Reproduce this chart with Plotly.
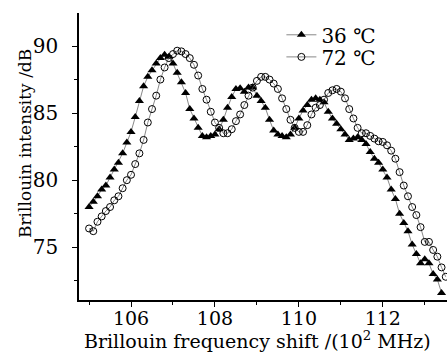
import plotly.graph_objects as go

x36 = [105.0, 105.1, 105.2, 105.3, 105.4, 105.5, 105.6, 105.7, 105.8, 105.9,
       106.0, 106.1, 106.2, 106.3, 106.4, 106.5, 106.6, 106.7, 106.8, 106.9,
       107.0, 107.1, 107.2, 107.3, 107.4, 107.5, 107.6, 107.7, 107.8, 107.9,
       108.0, 108.1, 108.2, 108.3, 108.4, 108.5, 108.6, 108.7, 108.8, 108.9,
       109.0, 109.1, 109.2, 109.3, 109.4, 109.5, 109.6, 109.7, 109.8, 109.9,
       110.0, 110.1, 110.2, 110.3, 110.4, 110.5, 110.6, 110.7, 110.8, 110.9,
       111.0, 111.1, 111.2, 111.3, 111.4, 111.5, 111.6, 111.7, 111.8, 111.9,
       112.0, 112.1, 112.2, 112.3, 112.4, 112.5, 112.6, 112.7, 112.8, 112.9,
       113.0, 113.1, 113.2, 113.3, 113.4]
y36 = [78.0, 78.4, 78.8, 79.3, 79.6, 80.2, 80.8, 81.3, 82.0, 82.8,
       83.6, 84.7, 85.9, 87.0, 87.7, 88.2, 88.7, 89.1, 89.35, 89.2,
       88.7, 88.0, 87.3, 86.5, 85.3, 84.6, 83.9, 83.3, 83.2, 83.3,
       83.4, 83.8, 84.5, 85.4, 86.2, 86.8, 86.85, 86.6, 86.9, 86.9,
       86.3, 85.9, 85.4, 84.5, 83.7, 83.4, 83.3, 83.2, 83.4, 83.9,
       84.6, 85.2, 85.6, 86.0, 86.1, 86.0, 85.8, 85.1, 84.6, 84.2,
       83.8, 83.4, 83.0, 83.1, 83.2, 83.0, 82.7, 82.1, 81.6, 81.3,
       80.8, 80.2, 79.3, 78.6, 77.5, 76.8, 76.2, 75.2, 74.5, 73.8,
       74.1, 73.8, 73.0, 72.6, 71.6]

x72 = [105.0, 105.1, 105.2, 105.3, 105.4, 105.5, 105.6, 105.7, 105.8, 105.9,
       106.0, 106.1, 106.2, 106.3, 106.4, 106.5, 106.6, 106.7, 106.8, 106.9,
       107.0, 107.1, 107.2, 107.3, 107.4, 107.5, 107.6, 107.7, 107.8, 107.9,
       108.0, 108.1, 108.2, 108.3, 108.4, 108.5, 108.6, 108.7, 108.8, 108.9,
       109.0, 109.1, 109.2, 109.3, 109.4, 109.5, 109.6, 109.7, 109.8, 109.9,
       110.0, 110.1, 110.2, 110.3, 110.4, 110.5, 110.6, 110.7, 110.8, 110.9,
       111.0, 111.1, 111.2, 111.3, 111.4, 111.5, 111.6, 111.7, 111.8, 111.9,
       112.0, 112.1, 112.2, 112.3, 112.4, 112.5, 112.6, 112.7, 112.8, 112.9,
       113.0, 113.1, 113.2, 113.3, 113.4, 113.5]
y72 = [76.4, 76.2, 76.9, 77.3, 77.7, 78.0, 78.5, 78.8, 79.4, 80.0,
       80.4, 81.2, 82.0, 83.0, 84.3, 85.3, 86.3, 87.5, 88.4, 89.1,
       89.4, 89.65, 89.6, 89.4, 89.1, 88.6, 87.8, 86.8, 86.0, 85.1,
       84.3, 83.9, 83.5, 83.5, 83.8, 84.4, 84.9, 85.6, 86.3, 86.9,
       87.4, 87.7, 87.7, 87.5, 87.2, 86.8, 86.1, 85.3, 84.5, 83.9,
       83.6, 83.6, 84.1, 84.9, 85.4, 85.6, 86.0, 86.5, 86.7, 86.8,
       86.6, 86.1, 85.3, 84.6, 83.9, 83.5, 83.5, 83.3, 83.1, 82.9,
       82.85, 82.6, 82.2, 81.6, 80.6, 79.6, 78.8, 78.0, 77.4, 76.5,
       75.4, 75.4, 74.8, 74.3, 73.5, 72.8]

series_names = ["36 \u2103", "72 \u2103"]
x_ticks = [106, 108, 110, 112]
y_ticks = [75, 80, 85, 90]
x_title = "Brillouin frequency shift /(10<sup>2</sup> MHz)"
y_title = "Brillouin intensity /dB"

FONT = "DejaVu Serif, Liberation Serif, serif"
FS = 20

fig = go.Figure()
fig.add_trace(go.Scatter(
    x=x36, y=y36, mode="lines+markers", name=series_names[0],
    line=dict(color="#555555", width=0.7),
    marker=dict(symbol="triangle-up", size=8, color="black",
                line=dict(width=0)),
    legend="legend",
))
fig.add_trace(go.Scatter(
    x=x72, y=y72, mode="lines+markers", name=series_names[1],
    line=dict(color="#555555", width=0.7),
    marker=dict(symbol="circle-open", size=7, color="black",
                line=dict(width=1)),
    legend="legend2",
))

leg_common = dict(xanchor="left", yanchor="top",
                  bgcolor="rgba(0,0,0,0)", borderwidth=0,
                  itemwidth=30,
                  font=dict(family=FONT, size=FS, color="black"))

fig.update_layout(
    width=447, height=352,
    margin=dict(l=79, r=0, t=13, b=52),
    paper_bgcolor="white", plot_bgcolor="white",
    font=dict(family=FONT, size=FS, color="black"),
    showlegend=True,
    legend=dict(x=0.55, y=0.992, **leg_common),
    legend2=dict(x=0.55, y=0.915, **leg_common),
    xaxis=dict(
        range=[104.76, 113.53], tickvals=x_ticks,
        ticktext=[str(v) for v in x_ticks],
        showline=True, linecolor="black", linewidth=1.5,
        ticks="outside", ticklen=5, tickwidth=1.2, tickcolor="black",
        minor=dict(dtick=1, tick0=105, ticks="outside", ticklen=3,
                   tickcolor="black", tickwidth=1),
        showgrid=False, zeroline=False, mirror=False,
        tickfont=dict(family=FONT, size=19),
        ticklabelstandoff=-5,
    ),
    yaxis=dict(
        range=[71.07, 92.46], tickvals=y_ticks,
        ticktext=[str(v) for v in y_ticks],
        showline=True, linecolor="black", linewidth=1.5,
        ticks="outside", ticklen=5, tickwidth=1.2, tickcolor="black",
        minor=dict(dtick=2.5, tick0=72.5, ticks="outside", ticklen=3,
                   tickcolor="black", tickwidth=1),
        showgrid=False, zeroline=False, mirror=False,
        tickfont=dict(family=FONT, size=FS),
        ticklabelstandoff=10,
    ),
    annotations=[
        dict(text=x_title, xref="paper", yref="paper",
             x=0.4837, y=-0.139, xanchor="center", yanchor="middle",
             showarrow=False,
             font=dict(family=FONT, size=19, color="black")),
        dict(text=y_title, xref="paper", yref="paper", textangle=-90,
             x=-0.1467, y=0.5436, xanchor="center", yanchor="middle",
             showarrow=False,
             font=dict(family=FONT, size=17, color="black")),
    ],
)

fig.write_html("out.html")
